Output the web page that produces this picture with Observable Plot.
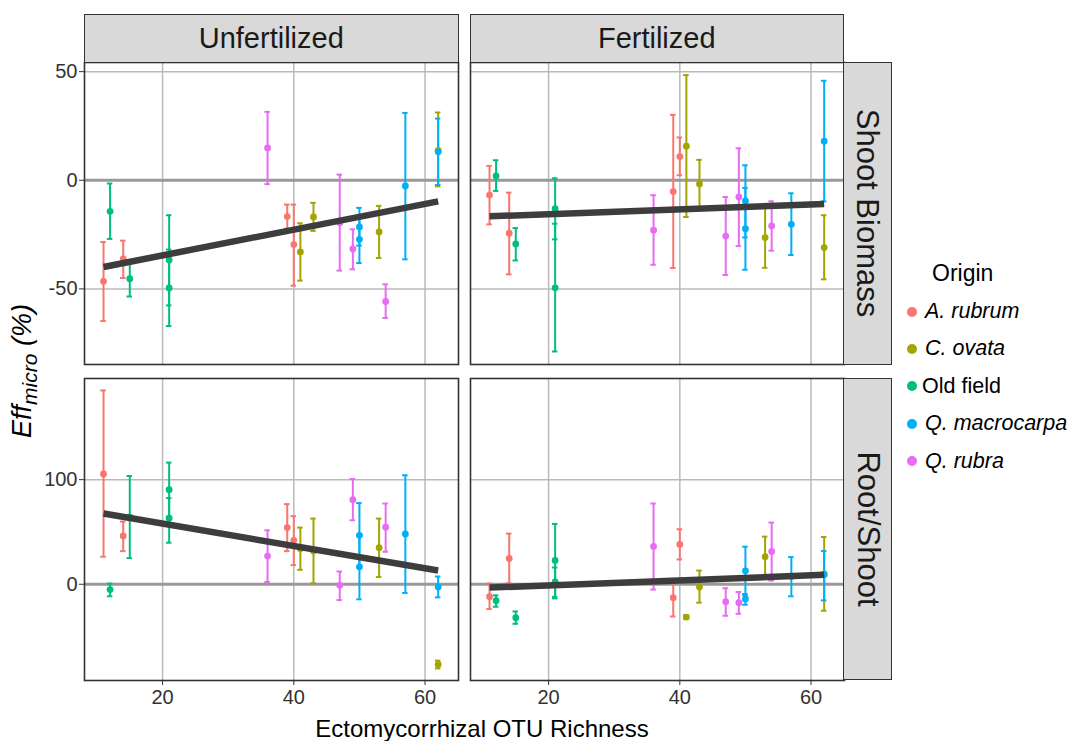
<!DOCTYPE html>
<html>
<head>
<meta charset="utf-8">
<script src="https://cdn.jsdelivr.net/npm/d3@7"></script>
<script src="https://cdn.jsdelivr.net/npm/@observablehq/plot@0.6"></script>
<style>
  html, body { margin: 0; padding: 0; background: #fff; }
  #root { position: relative; width: 1067px; height: 741px; overflow: hidden; background: #fff;
          font-family: "Liberation Sans", Arial, Helvetica, sans-serif; color: #000; }
  .abs { position: absolute; }
  .strip { position: absolute; background: #d9d9d9; border: 1.5px solid #333; box-sizing: border-box;
           display: flex; align-items: center; justify-content: center; font-size: 29px; color: #1a1a1a; }
  .vtext { transform: rotate(90deg); white-space: nowrap; font-size: 31px; }
  .leg-item { position: absolute; font-size: 21.5px; white-space: nowrap; }
  .leg-dot { position: absolute; width: 10px; height: 10px; border-radius: 50%; }
</style>
</head>
<body>
<div id="root"></div>
<script>
// ---------------- data ----------------
const origins = ["A. rubrum", "C. ovata", "Old field", "Q. macrocarpa", "Q. rubra"];
const originColors = ["#F8766D", "#A3A500", "#00BF7D", "#00B0F6", "#E76BF3"];

const richness = [11, 12, 14, 15, 21, 21, 36, 39, 40, 41, 43, 47, 49, 50, 50, 53, 54, 57, 62, 62];
const origin = ["A. rubrum", "Old field", "A. rubrum", "Old field", "Old field", "Old field", "Q. rubra",
  "A. rubrum", "A. rubrum", "C. ovata", "C. ovata", "Q. rubra", "Q. rubra", "Q. macrocarpa", "Q. macrocarpa",
  "C. ovata", "Q. rubra", "Q. macrocarpa", "C. ovata", "Q. macrocarpa"];

// Shoot Biomass, Unfertilized
const shootUnfMean = [-46.5, -14.3, -36.2, -45.3, -36.7, -49.6, 14.9, -16.7, -29.6, -33.0, -16.9, -19.5, -31.6, -21.5, -27.2, -23.8, -55.8, -2.6, 13.8, 13.1];
const shootUnfLo   = [-64.8, -27.0, -45.0, -53.5, -57.6, -67.1, -1.8, -22.3, -48.5, -46.2, -23.3, -41.6, -41.0, -30.1, -38.1, -35.8, -63.4, -36.4, -2.8, -2.2];
const shootUnfHi   = [-28.4, -1.5, -27.8, -37.1, -16.1, -31.9, 31.5, -11.2, -11.2, -19.8, -10.4, 2.6, -22.6, -12.7, -16.3, -11.8, -47.9, 31.0, 31.2, 28.4];
// Shoot Biomass, Fertilized
const shootFerMean = [-6.8, 2.0, -24.4, -29.3, -13.1, -49.5, -23.0, -5.2, 10.9, 15.7, -1.7, -25.7, -7.7, -9.5, -22.3, -26.4, -21.0, -20.3, -31.0, 18.0];
const shootFerLo   = [-20.3, -4.9, -43.3, -36.9, -27.2, -78.8, -38.9, -40.4, 2.3, -16.9, -12.8, -43.6, -30.3, -26.3, -41.2, -40.3, -32.4, -34.4, -45.6, -9.7];
const shootFerHi   = [6.6, 9.2, -5.7, -22.0, 0.9, -20.0, -6.9, 30.1, 19.7, 48.4, 9.4, -7.7, 14.7, 6.9, -3.5, -12.5, -9.7, -6.0, -16.1, 45.8];
// Root/Shoot, Unfertilized
const rootUnfMean = [105.4, -5.1, 46.2, 64.4, 90.4, 63.1, 26.9, 54.2, 42.0, 34.0, 31.7, -1.0, 80.8, 46.8, 16.7, 34.9, 54.5, 48.1, -76.6, -2.6];
const rootUnfLo   = [26.3, -11.5, 31.7, 25.0, 64.5, 39.7, 2.2, 31.7, 18.3, 13.8, 1.0, -15.1, 61.2, 16.0, -14.4, 7.0, 31.1, -8.3, -80.4, -12.5];
const rootUnfHi   = [185.3, 0.7, 59.9, 103.5, 116.3, 82.4, 51.6, 76.6, 65.1, 54.2, 62.8, 12.2, 100.6, 77.6, 46.8, 62.8, 77.2, 104.2, -73.0, 7.4];
// Root/Shoot, Fertilized
const rootFerMean = [-11.9, -15.7, 24.7, -32.0, 22.8, 2.2, 36.2, -12.8, 38.1, -31.4, -2.6, -16.7, -17.6, 12.8, -14.1, 26.3, 31.4, 7.4, 10.0, 9.0];
const rootFerLo   = [-23.7, -21.5, 1.0, -37.8, -12.0, -13.5, -5.1, -30.8, 23.7, -33.3, -17.6, -30.1, -28.2, -10.3, -19.6, 7.0, 3.5, -11.5, -25.3, -15.4];
const rootFerHi   = [0.7, -10.6, 48.4, -26.0, 57.7, 16.0, 77.2, 5.2, 52.6, -29.5, 13.1, -3.8, -7.4, 35.9, -9.3, 45.5, 59.0, 26.0, 45.2, 31.7];

// Linear fits (endpoints at the range of richness)
const fitX = [11, 62];
const fitShootUnf = [-39.9, -9.7];
const fitShootFer = [-16.6, -10.9];
const fitRootUnf = [67.6, 13.1];
const fitRootFer = [-3.2, 9.0];

// Tick labels
const xTicks = [20, 40, 60];
const shootTicks = [-50, 0, 50];
const rootTicks = [0, 100];
const columns = ["Unfertilized", "Fertilized"];
const rows = ["Shoot Biomass", "Root/Shoot"];

// ---------------- layout ----------------
const FONT = '"Liberation Sans", Arial, Helvetica, sans-serif';
const root = document.getElementById("root");
const colLeft = [84, 469.5];
const rowTop = [62, 377.5];
const PW = 374, PH = 302;
const xDomain = [8.1, 65.1];
const yDomains = [[-84.8, 54.2], [-92, 196.7]];

function rowsOf(mean, lo, hi) {
  return richness.map((x, i) => ({x, origin: origin[i], mean: mean[i], lo: lo[i], hi: hi[i]}));
}
function fitOf(f) { return fitX.map((x, i) => ({x, y: f[i]})); }

const panels = [
  {r: 0, c: 0, data: rowsOf(shootUnfMean, shootUnfLo, shootUnfHi), fit: fitOf(fitShootUnf), ticks: shootTicks},
  {r: 0, c: 1, data: rowsOf(shootFerMean, shootFerLo, shootFerHi), fit: fitOf(fitShootFer), ticks: shootTicks},
  {r: 1, c: 0, data: rowsOf(rootUnfMean, rootUnfLo, rootUnfHi), fit: fitOf(fitRootUnf), ticks: rootTicks},
  {r: 1, c: 1, data: rowsOf(rootFerMean, rootFerLo, rootFerHi), fit: fitOf(fitRootFer), ticks: rootTicks},
];

const CAP = 0.42;
for (const p of panels) {
  const showY = p.c === 0, showX = p.r === 1;
  const mL = showY ? 80 : 3, mR = 3, mT = 3, mB = showX ? 36 : 3;
  const marks = [
    Plot.gridX(xTicks, {stroke: "#bababa", strokeOpacity: 1, strokeWidth: 1.5}),
    Plot.gridY(p.ticks, {stroke: "#bababa", strokeOpacity: 1, strokeWidth: 1.5}),
    Plot.ruleY([0], {stroke: "#999999", strokeWidth: 2.8}),
    Plot.ruleX(p.data, {x: "x", y1: "lo", y2: "hi", stroke: "origin", strokeWidth: 2}),
    Plot.ruleY(p.data, {y: "hi", x1: d => d.x - CAP, x2: d => d.x + CAP, stroke: "origin", strokeWidth: 2}),
    Plot.ruleY(p.data, {y: "lo", x1: d => d.x - CAP, x2: d => d.x + CAP, stroke: "origin", strokeWidth: 2}),
    Plot.dot(p.data, {x: "x", y: "mean", fill: "origin", r: 3.4}),
    Plot.line(p.fit, {x: "x", y: "y", stroke: "#3d3d3d", strokeWidth: 6.5, strokeLinecap: "butt"}),
    Plot.frame({stroke: "#333333", strokeWidth: 1.6}),
  ];
  if (showY) marks.push(Plot.axisY(p.ticks, {tickSize: 5, tickPadding: 2, fontSize: 20, tickFormat: d => String(d), label: null, stroke: "#333"}));
  if (showX) marks.push(Plot.axisX(xTicks, {tickSize: 5, tickPadding: 4, fontSize: 20, tickFormat: d => String(d), label: null, stroke: "#333"}));
  const chart = Plot.plot({
    width: PW + mL + mR,
    height: PH + mT + mB,
    marginLeft: mL, marginRight: mR, marginTop: mT, marginBottom: mB,
    x: {domain: xDomain, axis: null},
    y: {domain: yDomains[p.r], axis: null},
    color: {domain: origins, range: originColors},
    style: {fontFamily: FONT, fontSize: "20px", color: "#333", background: "transparent", overflow: "visible"},
    marks
  });
  chart.style.position = "absolute";
  chart.style.left = (colLeft[p.c] - mL) + "px";
  chart.style.top = (rowTop[p.r] - mT) + "px";
  root.appendChild(chart);
}

// strips (facet labels)
columns.forEach((name, c) => {
  const s = document.createElement("div");
  s.className = "strip";
  Object.assign(s.style, {left: colLeft[c] + "px", top: "14px", width: (PW + 0.5) + "px", height: "49px"});
  s.textContent = name;
  root.appendChild(s);
});
rows.forEach((name, r) => {
  const s = document.createElement("div");
  s.className = "strip";
  Object.assign(s.style, {left: (colLeft[1] + PW - 0.5) + "px", top: rowTop[r] + "px", width: "49px", height: PH + 0.5 + "px"});
  const t = document.createElement("div");
  t.className = "vtext";
  t.textContent = name;
  s.appendChild(t);
  root.appendChild(s);
});

// axis titles
const xt = document.createElement("div");
xt.className = "abs";
Object.assign(xt.style, {left: "0px", width: "964px", top: "715px", textAlign: "center", fontSize: "24px", color: "#000"});
xt.textContent = "Ectomycorrhizal OTU Richness";
root.appendChild(xt);

const yt = document.createElement("div");
yt.className = "abs";
Object.assign(yt.style, {left: "24px", top: "371px", transform: "translate(-50%, -50%) rotate(-90deg)", whiteSpace: "nowrap",
  fontSize: "27px", fontStyle: "italic", color: "#000"});
yt.innerHTML = 'Eff<sub style="font-size:21px;vertical-align:-6px">micro</sub> (%)';
root.appendChild(yt);

// legend
const lt = document.createElement("div");
lt.className = "abs";
Object.assign(lt.style, {left: "932px", top: "260px", fontSize: "23px", color: "#000"});
lt.textContent = "Origin";
root.appendChild(lt);
origins.forEach((o, i) => {
  const cy = 311.5 + i * 37.4;
  const d = document.createElement("div");
  d.className = "leg-dot";
  Object.assign(d.style, {left: "907px", top: (cy - 5) + "px", background: originColors[i]});
  root.appendChild(d);
  const t = document.createElement("div");
  t.className = "leg-item";
  Object.assign(t.style, {left: (o === "Old field" ? 922 : 925) + "px", top: (cy - 12.5) + "px",
    fontStyle: o === "Old field" ? "normal" : "italic"});
  t.textContent = o;
  root.appendChild(t);
});
</script>
</body>
</html>
